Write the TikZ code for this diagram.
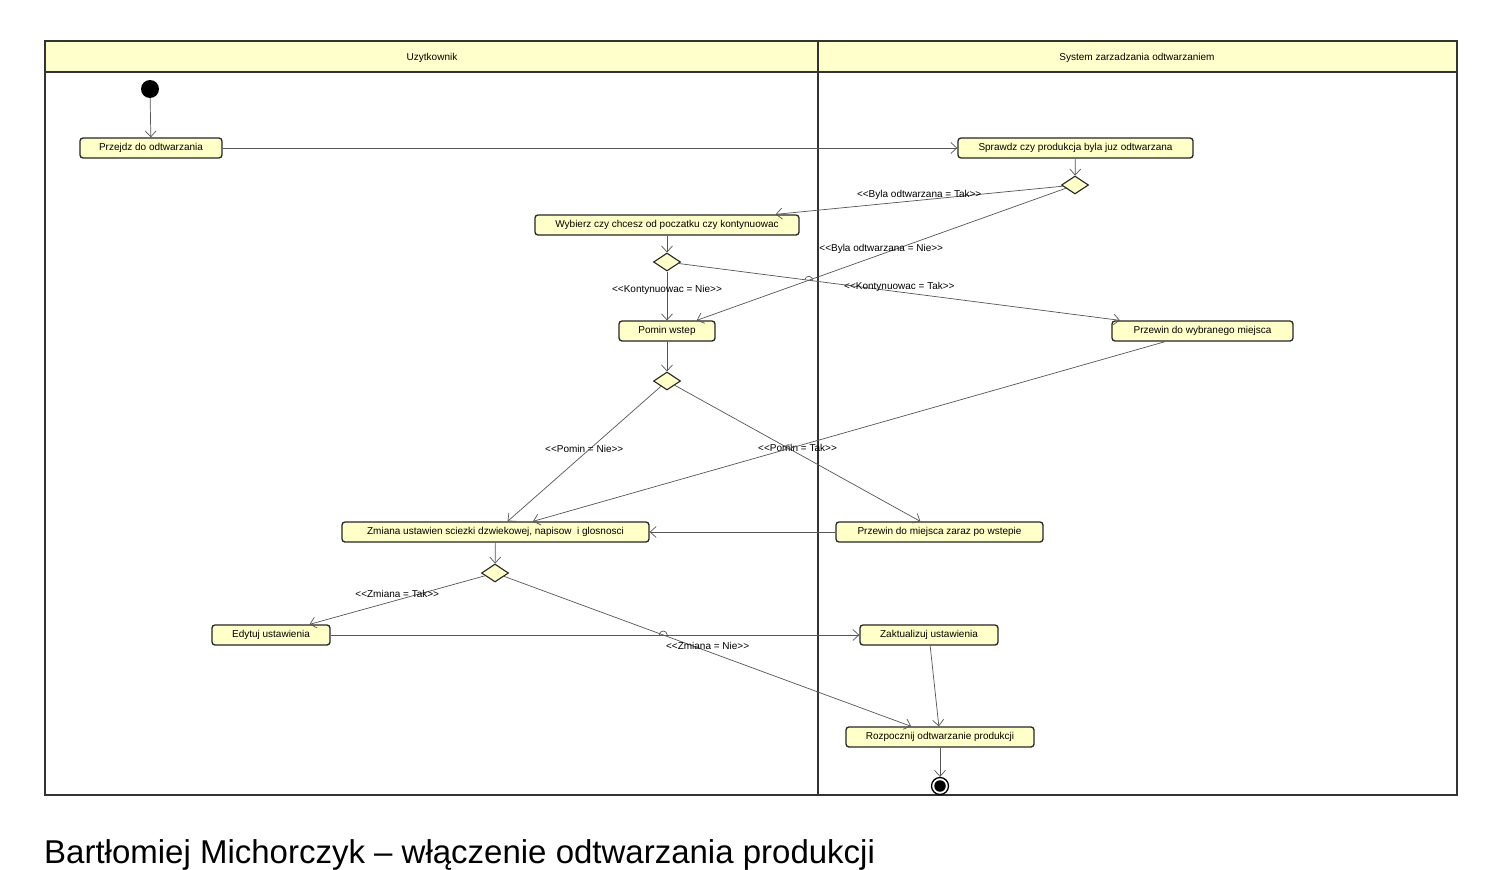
\documentclass[tikz,border=0pt]{standalone}
\usepackage{fontspec}
\usepackage{tikz}
\usetikzlibrary{arrows.meta, shapes.geometric, intersections}
\newfontfamily\umlfont{Liberation Sans}
\newfontfamily\capfont{Liberation Sans}
\definecolor{lanefill}{RGB}{255,255,204}
\definecolor{actfill}{RGB}{255,255,200}
\definecolor{edgegray}{RGB}{85,85,85}

\begin{document}
\begin{tikzpicture}[
        x=1pt, y=-1pt,
        font=\umlfont\fontsize{10}{12}\selectfont,
        act/.style={draw=black!85, line width=1.3pt, rounded corners=3pt,
            fill=actfill, minimum height=20pt, inner sep=0pt,
            text height=7.5pt, text depth=2pt},
        decision/.style={diamond, draw=black!85, line width=1.1pt, fill=actfill,
            minimum width=27pt, minimum height=18pt, inner sep=0pt},
        arr/.style={-{Straight Barb[length=6pt, width=11pt]}, draw=edgegray, line width=0.7pt},
        guard/.style={inner sep=0pt, pos=0.5, yshift=5.5pt},
        hop/.style={draw=edgegray, line width=0.7pt},
    ]
        \fill[white] (0,0) rectangle (1510,870);

        % swimlanes
        \fill[lanefill] (45,41) rectangle (1457,72);
        \draw[line width=1.4pt, draw=black!80] (45,41) rectangle (1457,795);
        \draw[line width=1.4pt, draw=black!80] (45,72) -- (1457,72);
        \draw[line width=2pt, draw=black!80] (818,41) -- (818,795);
        \node (laneU) at (432,58) {Uzytkownik};
        \node (laneS) at (1137,58) {System zarzadzania odtwarzaniem};

        % start / end
        \node[circle, fill=black, minimum size=18pt, inner sep=0pt] (start) at (150,89) {};
        \node[circle, draw=black, line width=1.3pt, fill=white, minimum size=17pt, inner sep=0pt] (stop) at (940,786) {};
        \node[circle, fill=black, minimum size=11.5pt, inner sep=0pt] (stopdot) at (stop) {};

        % activities
        \node[act, minimum width=142pt] (przejdz) at (151,148) {Przejdz do odtwarzania};
        \node[act, minimum width=235pt] (sprawdz) at (1075.5,148) {Sprawdz czy produkcja byla juz odtwarzana};
        \node[decision] (dec1) at (1075,185) {};
        \node[act, minimum width=264pt] (wybierz) at (667,225) {Wybierz czy chcesz od poczatku czy kontynuowac};
        \node[decision] (dec2) at (667,262) {};
        \node[act, minimum width=96pt] (pomin) at (667,331) {Pomin wstep};
        \node[act, minimum width=181pt] (przewinW) at (1202.5,331) {Przewin do wybranego miejsca};
        \node[decision] (dec3) at (667,381) {};
        \node[act, minimum width=307pt] (zmiana) at (495.5,532) {Zmiana ustawien sciezki dzwiekowej, napisow\ \ i glosnosci};
        \node[act, minimum width=207pt] (przewinP) at (939.5,532) {Przewin do miejsca zaraz po wstepie};
        \node[decision] (dec4) at (495,573) {};
        \node[act, minimum width=118pt] (edytuj) at (271,635) {Edytuj ustawienia};
        \node[act, minimum width=138pt] (zaktualizuj) at (929,635) {Zaktualizuj ustawienia};
        \node[act, minimum width=188pt] (rozpocznij) at (940,737) {Rozpocznij odtwarzanie produkcji};

        % flows
        \draw[arr] (start) -- (przejdz);
        \draw[arr] (przejdz) -- (sprawdz);
        \draw[arr] (sprawdz) -- (dec1);
        \draw[arr] (dec1) -- node[guard] (gByTak) {<<Byla odtwarzana = Tak>>} (wybierz);
        \draw[arr, name path=eByNie] (dec1) -- node[guard] (gByNie) {<<Byla odtwarzana = Nie>>} (pomin);
        \draw[arr] (wybierz) -- (dec2);
        \draw[arr] (dec2) -- node[guard, pos=0.38, yshift=-5.5pt] (gKoNie) {<<Kontynuowac = Nie>>} (pomin);
        \draw[arr, name path=eKoTak] (dec2) -- node[guard] (gKoTak) {<<Kontynuowac = Tak>>} (przewinW);
        \draw[arr] (pomin) -- (dec3);
        \draw[arr] (dec3) -- node[guard, yshift=-0.5pt] (gPoNie) {<<Pomin = Nie>>} (zmiana);
        \draw[arr, name path=ePoTak] (dec3) -- node[guard] (gPoTak) {<<Pomin = Tak>>} (przewinP);
        \draw[arr, name path=eWybr] (przewinW) -- (zmiana);
        \draw[arr] (przewinP) -- (zmiana);
        \draw[arr] (zmiana) -- (dec4);
        \draw[arr] (dec4) -- node[guard, yshift=1pt] (gZmTak) {<<Zmiana = Tak>>} (edytuj);
        \draw[arr, name path=eZmNie] (dec4) -- node[guard, yshift=-0.5pt] (gZmNie) {<<Zmiana = Nie>>} (rozpocznij);
        \draw[arr, name path=eEdyt] (edytuj) -- (zaktualizuj);
        \draw[arr] (zaktualizuj) -- (rozpocznij);
        \draw[arr] (rozpocznij) -- (stop);

        % line hops
        \path[name intersections={of=eByNie and eKoTak, by=hopA}];
        \path[name intersections={of=ePoTak and eWybr, by=hopB}];
        \path[name intersections={of=eZmNie and eEdyt, by=hopC}];
        \draw[hop] ([shift={(172.6:4pt)}]hopA) arc[start angle=172.6, end angle=-7.4, radius=4pt];
        \draw[hop] ([shift={(195.9:4pt)}]hopB) arc[start angle=195.9, end angle=15.9, radius=4pt];
        \draw[hop] ([shift={(180:4pt)}]hopC) arc[start angle=180, end angle=0, radius=4pt];

        % caption
        \node[anchor=base west, inner sep=0pt, font=\capfont\fontsize{33}{38}\selectfont] (caption)
            at (44,863) {Bartłomiej Michorczyk – włączenie odtwarzania produkcji};
    \end{tikzpicture}
\end{document}
